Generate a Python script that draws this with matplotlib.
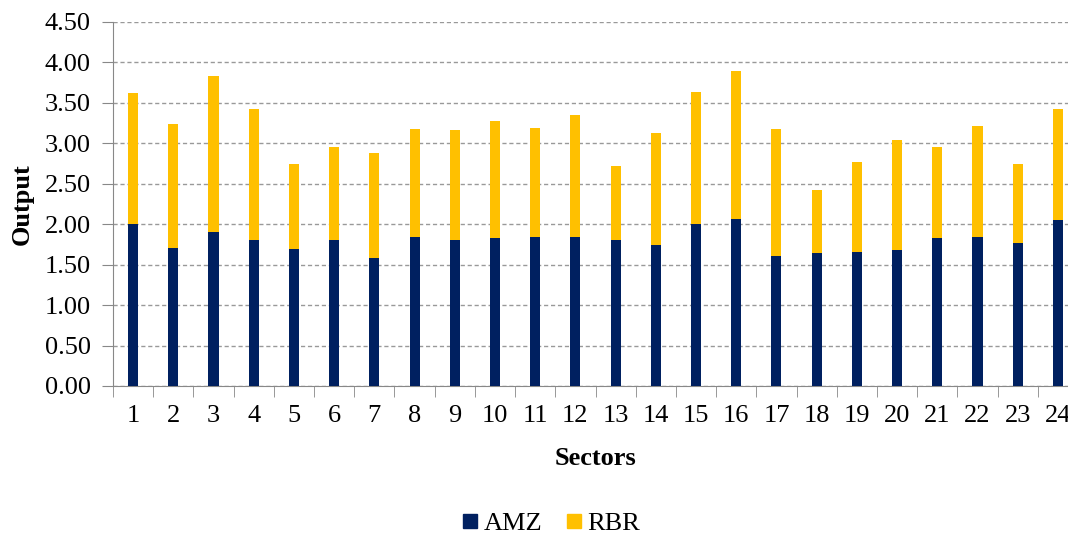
import numpy as np
import matplotlib.pyplot as plt
from matplotlib.lines import Line2D

plt.rcParams["font.family"] = ["Liberation Serif", "DejaVu Serif"]

sectors = [str(i) for i in range(1, 25)]
amz = [2.00, 1.70, 1.91, 1.80, 1.69, 1.81, 1.58, 1.84, 1.80, 1.83, 1.84, 1.84,
       1.81, 1.74, 2.00, 2.06, 1.61, 1.64, 1.66, 1.68, 1.83, 1.84, 1.77, 2.05]
total = [3.62, 3.24, 3.83, 3.43, 2.75, 2.95, 2.88, 3.18, 3.16, 3.27, 3.19, 3.35,
         2.72, 3.13, 3.63, 3.90, 3.18, 2.42, 2.77, 3.04, 2.95, 3.22, 2.74, 3.43]
rbr = [round(t - a, 2) for t, a in zip(total, amz)]

AMZ_COLOR = "#002060"
RBR_COLOR = "#FFC000"
FS = 19

fig = plt.figure(figsize=(10.68, 5.35), dpi=100)
# axis spans x=113..1078 px, y=22..386 px
ax = fig.add_axes([113 / 1068, (535 - 386) / 535, 965 / 1068, 364 / 535])

x = np.arange(1, 25)
ax.bar(x, amz, width=0.25, color=AMZ_COLOR, zorder=3)
ax.bar(x, rbr, width=0.25, bottom=amz, color=RBR_COLOR, zorder=3)

ax.set_xlim(0.5, 24.5)
ax.set_ylim(0, 4.5)
ax.set_yticks(np.arange(0, 4.51, 0.5))
ax.set_yticklabels([f"{v:.2f}" for v in np.arange(0, 4.51, 0.5)], fontsize=FS)
ax.yaxis.grid(True, linestyle=(0, (3, 2)), color="#999999", linewidth=1, zorder=0)

ax.set_xticks(x)
ax.set_xticklabels(sectors, fontsize=FS)
ax.tick_params(axis="x", length=0, pad=14)
ax.set_xticks(np.arange(0.5, 25, 1), minor=True)
ax.tick_params(axis="x", which="minor", length=8, color="#888888")
ax.tick_params(axis="y", length=8, color="#888888", pad=8)

for side in ["top", "right"]:
    ax.spines[side].set_visible(False)
for side in ["left", "bottom"]:
    ax.spines[side].set_color("#888888")

ax.set_xlabel("Sectors", fontsize=FS, fontweight="bold", labelpad=14)
ax.set_ylabel("Output", fontsize=FS, fontweight="bold", labelpad=8)

handles = [
    Line2D([], [], marker="s", linestyle="none", markersize=10, color=AMZ_COLOR),
    Line2D([], [], marker="s", linestyle="none", markersize=10, color=RBR_COLOR),
]
fig.legend(handles, ["AMZ", "RBR"], loc="center", bbox_to_anchor=(547 / 1068, 1 - 523 / 535),
           ncol=2, frameon=False, fontsize=FS, handletextpad=-0.1, columnspacing=0.6,
           handlelength=1.2)

fig.savefig("out.png", dpi=100)
